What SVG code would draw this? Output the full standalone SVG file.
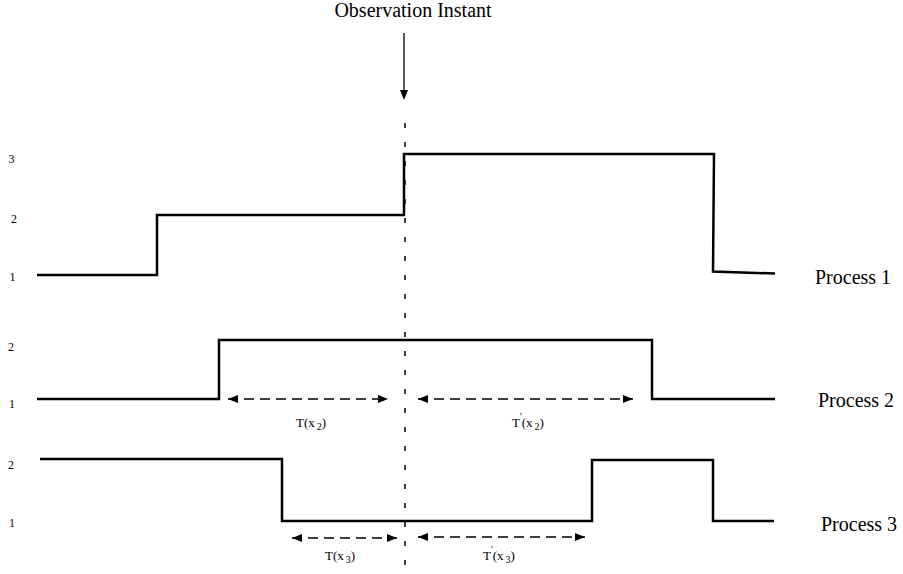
<svg xmlns="http://www.w3.org/2000/svg" width="903" height="574" viewBox="0 0 903 574">
<style>
text { font-family: "Liberation Serif", "Times New Roman", serif; fill: #000; }
.big { font-size: 20px; }
.lvl { font-size: 12px; text-anchor: middle; }
.tl { font-size: 13px; }
.sig { fill: none; stroke: #000; stroke-width: 2.5; stroke-linejoin: miter; }
.dim { fill: none; stroke: #000; stroke-width: 1.3; stroke-dasharray: 10 6; marker-start: url(#ah); marker-end: url(#ah); }
.obs { fill: none; stroke: #000; stroke-width: 1.5; stroke-dasharray: 5 14; }
</style>
<defs>
<marker id="ah" viewBox="0 0 10 8" refX="10" refY="4" markerWidth="10" markerHeight="8" markerUnits="userSpaceOnUse" orient="auto-start-reverse">
<path d="M0,0 L10,4 L0,8 Z" fill="#000"/>
</marker>
</defs>
<g id="title">
<text class="big" x="413" y="17" text-anchor="middle">Observation Instant</text>
</g>
<g id="connectors">
<line x1="404" y1="33" x2="404" y2="92" stroke="#000" stroke-width="1.3"/>
<path d="M400,90 L408,90 L404,100 Z" fill="#000"/>
<line class="obs" x1="405" y1="123" x2="405" y2="574"/>
<line class="dim" x1="228" y1="399" x2="388" y2="399"/>
<line class="dim" x1="418" y1="399" x2="633" y2="399"/>
<line class="dim" x1="292" y1="538" x2="397" y2="538"/>
<line class="dim" x1="418" y1="537" x2="585" y2="537"/>
</g>
<g id="process1">
<text class="lvl" x="11.5" y="163">3</text>
<text class="lvl" x="14" y="223">2</text>
<text class="lvl" x="12.5" y="281">1</text>
<path class="sig" d="M37,275 H157 V215 H404 V154 H714 L713,271.5 L775,273.5"/>
<text class="big" x="815" y="284">Process 1</text>
</g>
<g id="process2">
<text class="lvl" x="11" y="351">2</text>
<text class="lvl" x="12" y="408">1</text>
<path class="sig" d="M37,399 H219 V340 H652 V399 H775"/>
<text class="big" x="818" y="407">Process 2</text>
<text class="tl" x="296" y="427">T(x<tspan font-size="10" dx="2" dy="3">2</tspan><tspan dy="-3">)</tspan></text>
<text class="tl" x="512" y="427">T<tspan font-size="10" dy="-7">'</tspan><tspan dy="7">(x</tspan><tspan font-size="10" dx="2" dy="3">2</tspan><tspan dy="-3">)</tspan></text>
</g>
<g id="process3">
<text class="lvl" x="11" y="469">2</text>
<text class="lvl" x="12" y="527">1</text>
<path class="sig" d="M40,459 H282 V521 H592 V460 H713 V521 H774"/>
<text class="big" x="821" y="531">Process 3</text>
<text class="tl" x="325" y="560">T(x<tspan font-size="10" dx="2" dy="3">3</tspan><tspan dy="-3">)</tspan></text>
<text class="tl" x="483" y="560">T<tspan font-size="10" dy="-7">'</tspan><tspan dy="7">(x</tspan><tspan font-size="10" dx="2" dy="3">3</tspan><tspan dy="-3">)</tspan></text>
</g>
</svg>
